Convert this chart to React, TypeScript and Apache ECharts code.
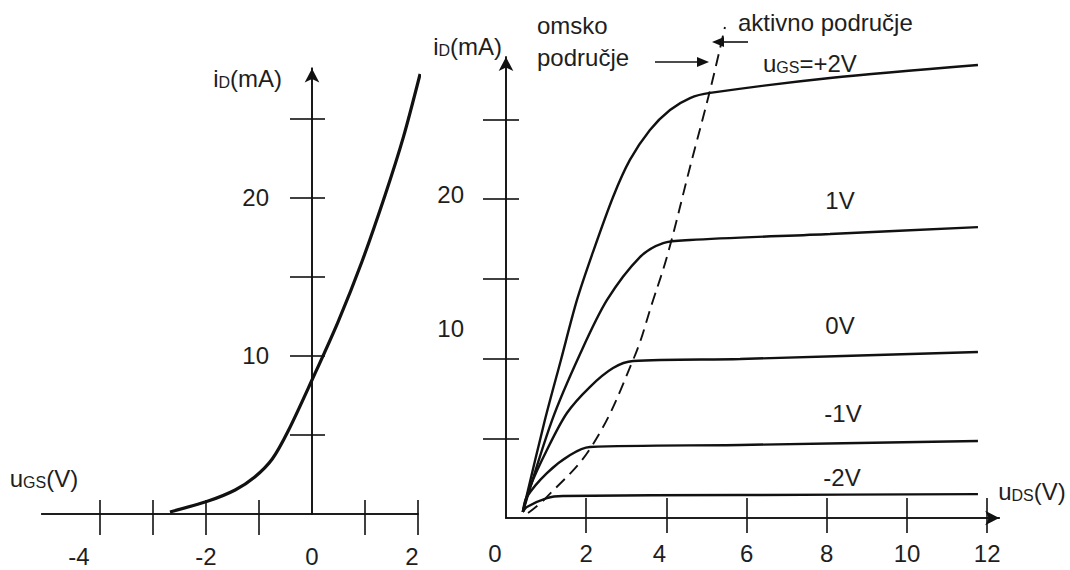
import React, { useEffect, useRef } from "react";
import * as echarts from "echarts";

const FONT = "'Liberation Sans', Arial, Helvetica, sans-serif";
const INK = "#111111";
const TEXT = "#1e1e1e";
const FS = 24;
const SUB = 16;

// ---- Left panel: transfer characteristic iD(uGS) ----
const transferUgs = [-2.68, -1.96, -1.45, -1.08, -0.75, -0.45, 0.0, 0.49, 0.94, 1.38, 1.72, 2.04];
const transferId = [0.13, 0.82, 1.52, 2.34, 3.48, 5.25, 8.48, 12.15, 15.95, 20.19, 23.8, 27.85];
const leftXTickValues = [-4, -3, -2, -1, 1, 2];
const leftXLabelValues = [-4, -2, 0, 2];
const leftYTickValues = [5, 10, 15, 20, 25];
const leftYLabelValues = [10, 20];

// ---- Right panel: output characteristics iD(uDS) ----
const udsPlus2 = [0.42, 0.97, 1.37, 1.77, 2.17, 2.67, 3.09, 3.59, 4.09, 4.59, 5.09, 8.08, 11.77];
const idPlus2 = [0.38, 6.14, 9.91, 13.67, 16.68, 20.13, 22.45, 24.33, 25.58, 26.33, 26.65, 27.59, 28.4];
const udsPlus1 = [0.42, 1.15, 1.85, 2.52, 3.34, 3.92, 4.59, 8.08, 11.77];
const idPlus1 = [0.38, 6.14, 10.3, 13.67, 16.36, 17.24, 17.43, 17.81, 18.24];
const uds0 = [0.42, 0.6, 1.02, 1.52, 2.09, 2.67, 3.17, 5.84, 11.77];
const id0 = [0.38, 1.94, 4.26, 6.58, 8.21, 9.4, 9.84, 9.97, 10.41];
const udsMinus1 = [0.42, 0.52, 1.02, 1.6, 2.09, 5.84, 11.77];
const idMinus1 = [0.38, 1.32, 2.82, 3.95, 4.45, 4.58, 4.83];
const udsMinus2 = [0.42, 0.52, 1.02, 1.42, 5.84, 11.77];
const idMinus2 = [0.38, 0.69, 1.25, 1.38, 1.44, 1.5];
const udsBoundary = [0.55, 1.02, 2.14, 3.17, 3.67, 4.04, 4.59, 5.09, 5.46];
const idBoundary = [0.31, 1.32, 4.51, 9.91, 13.67, 16.61, 22.01, 26.83, 30.78];
const rightXTickValues = [2, 4, 6, 8, 10, 12];
const rightXLabelValues = [0, 2, 4, 6, 8, 10, 12];
const rightYTickValues = [5, 10, 15, 20, 25];
const rightYLabelValues = [10, 20];
const curveLabels = ["1V", "0V", "-1V", "-2V"];

const zip = (xs: number[], ys: number[]) => xs.map((x, i) => [x, ys[i]]);

const axisLineStyle = { color: INK, width: 1.6 };
const tickStyle = { color: INK, width: 1.6 };

const subRich = {
  m: { fontSize: FS, fontFamily: FONT, color: TEXT, verticalAlign: "bottom" },
  s: { fontSize: SUB, fontFamily: FONT, color: TEXT, verticalAlign: "bottom" },
};

const labelBase = { fontSize: FS, fontFamily: FONT, color: TEXT };

function shiftRich(padRight: number, padBottom: number) {
  return { ...labelBase, padding: [0, padRight, padBottom, 0] };
}

function curveSeries(name: string, data: number[][], xi: number, yi: number, extra: any = {}) {
  return {
    name,
    type: "line",
    xAxisIndex: xi,
    yAxisIndex: yi,
    data,
    showSymbol: false,
    symbol: "none",
    smooth: 0.3,
    clip: false,
    silent: true,
    lineStyle: { color: INK, width: 2.4 },
    ...extra,
  };
}

function textEl(text: string, x: number, y: number, align = "left") {
  return {
    type: "text",
    x,
    y,
    silent: true,
    style: {
      text,
      fill: TEXT,
      font: `${FS}px ${FONT}`,
      align,
      textAlign: align,
      verticalAlign: "middle",
      textVerticalAlign: "middle",
    },
  };
}

const curveLabelPos = [
  [840, 200],
  [840, 325],
  [843, 413],
  [842, 477],
];

// left panel: the ordinate sits at uGS = 0, i.e. 312 - 41.7 px right of the grid edge
const LEFT_Y_OFFSET = -270.3;

export default function App() {
  const ref = useRef<HTMLDivElement>(null);

  useEffect(() => {
    document.body.style.margin = "0";
    const chart = echarts.init(ref.current as HTMLDivElement, null, { renderer: "svg" });

    const option: any = {
      animation: false,
      backgroundColor: "#ffffff",
      grid: [
        { left: 41.7, top: 68.4, width: 376.3, height: 445.6, containLabel: false, outerBoundsMode: "none" },
        { left: 506, top: 57.05, width: 493.2, height: 460.95, containLabel: false, outerBoundsMode: "none" },
      ],
      xAxis: [
        {
          type: "value",
          gridIndex: 0,
          position: "bottom",
          min: -5.1,
          max: 2.0,
          splitLine: { show: false },
          axisLine: { show: true, onZero: false, lineStyle: axisLineStyle },
          axisTick: { show: true, customValues: leftXTickValues, length: 21, inside: false, lineStyle: tickStyle },
          axisLabel: {
            show: true,
            customValues: leftXLabelValues,
            margin: 30,
            ...labelBase,
            formatter: (v: number) => (v === -4 ? "{a|-4}" : v === 2 ? "{b|2}" : String(v)),
            rich: { a: shiftRich(42, 0), b: shiftRich(12, 0) },
          },
          name: "{m|u}{s|GS}{m|(V)}",
          nameLocation: "start",
          nameGap: 32,
          nameTextStyle: { align: "left", verticalAlign: "bottom", padding: [0, 0, 24, 0], rich: subRich },
        },
        {
          type: "value",
          gridIndex: 0,
          position: "bottom",
          min: -5.1,
          max: 2.0,
          splitLine: { show: false },
          axisLine: { show: true, onZero: false, lineStyle: axisLineStyle },
          axisTick: { show: true, customValues: leftXTickValues, length: 14, inside: true, lineStyle: tickStyle },
          axisLabel: { show: false },
        },
        {
          type: "value",
          gridIndex: 1,
          position: "bottom",
          min: 0,
          max: 12.3,
          splitLine: { show: false },
          axisLine: {
            show: true,
            onZero: false,
            symbol: ["none", "arrow"],
            symbolSize: [11, 14],
            lineStyle: axisLineStyle,
          },
          axisTick: { show: true, customValues: rightXTickValues, length: 15, inside: false, lineStyle: tickStyle },
          axisLabel: {
            show: true,
            customValues: rightXLabelValues,
            margin: 23,
            ...labelBase,
            formatter: (v: number) => (v === 0 ? "{a|0}" : v === 4 ? "{b|4}" : String(v)),
            rich: { a: shiftRich(22, 0), b: shiftRich(14, 0) },
          },
          name: "{m|u}{s|DS}{m|(V)}",
          nameLocation: "end",
          nameGap: -1,
          nameTextStyle: { align: "left", verticalAlign: "bottom", padding: [0, 0, 15, 0], rich: subRich },
        },
        {
          type: "value",
          gridIndex: 1,
          position: "bottom",
          min: 0,
          max: 12.3,
          splitLine: { show: false },
          axisLine: { show: true, onZero: false, lineStyle: axisLineStyle },
          axisTick: { show: true, customValues: rightXTickValues, length: 20, inside: true, lineStyle: tickStyle },
          axisLabel: { show: false },
        },
      ],
      yAxis: [
        {
          type: "value",
          gridIndex: 0,
          position: "left",
          offset: LEFT_Y_OFFSET,
          min: 0,
          max: 28.2,
          splitLine: { show: false },
          axisLine: {
            show: true,
            onZero: false,
            symbol: ["none", "arrow"],
            symbolSize: [11, 14],
            lineStyle: axisLineStyle,
          },
          axisTick: { show: true, customValues: leftYTickValues, length: 22, inside: false, lineStyle: tickStyle },
          axisLabel: { show: true, customValues: leftYLabelValues, margin: 43, ...labelBase },
          name: "{m|i}{s|D}{m|(mA)}",
          nameLocation: "end",
          nameGap: -10,
          nameTextStyle: { align: "right", verticalAlign: "middle", padding: [0, 30, 0, 0], rich: subRich },
        },
        {
          type: "value",
          gridIndex: 0,
          position: "left",
          offset: LEFT_Y_OFFSET,
          min: 0,
          max: 28.2,
          splitLine: { show: false },
          axisLine: { show: true, onZero: false, lineStyle: axisLineStyle },
          axisTick: { show: true, customValues: leftYTickValues, length: 13, inside: true, lineStyle: tickStyle },
          axisLabel: { show: false },
        },
        {
          type: "value",
          gridIndex: 1,
          position: "left",
          min: 0,
          max: 28.9,
          splitLine: { show: false },
          axisLine: {
            show: true,
            onZero: false,
            symbol: ["none", "arrow"],
            symbolSize: [11, 14],
            lineStyle: axisLineStyle,
          },
          axisTick: { show: true, customValues: rightYTickValues, length: 23, inside: false, lineStyle: tickStyle },
          axisLabel: {
            show: true,
            customValues: rightYLabelValues,
            margin: 42,
            ...labelBase,
            formatter: (v: number) => (v === 10 ? "{a|10}" : "{b|20}"),
            rich: { a: shiftRich(0, 60), b: shiftRich(0, 10) },
          },
          name: "{m|i}{s|D}{m|(mA)}",
          nameLocation: "end",
          nameGap: 11,
          nameTextStyle: { align: "right", verticalAlign: "middle", padding: [0, 4, 0, 0], rich: subRich },
        },
        {
          type: "value",
          gridIndex: 1,
          position: "left",
          min: 0,
          max: 28.9,
          splitLine: { show: false },
          axisLine: { show: true, onZero: false, lineStyle: axisLineStyle },
          axisTick: { show: true, customValues: rightYTickValues, length: 13, inside: true, lineStyle: tickStyle },
          axisLabel: { show: false },
        },
      ],
      series: [
        curveSeries("iD(uGS)", zip(transferUgs, transferId), 0, 0, { lineStyle: { color: INK, width: 3.2 } }),
        curveSeries("uGS=+2V", zip(udsPlus2, idPlus2), 2, 2),
        curveSeries(curveLabels[0], zip(udsPlus1, idPlus1), 2, 2),
        curveSeries(curveLabels[1], zip(uds0, id0), 2, 2),
        curveSeries(curveLabels[2], zip(udsMinus1, idMinus1), 2, 2),
        curveSeries(curveLabels[3], zip(udsMinus2, idMinus2), 2, 2),
        curveSeries("granica", zip(udsBoundary, idBoundary), 2, 2, {
          smooth: 0.4,
          lineStyle: { color: INK, width: 1.9, type: [12, 7] },
        }),
      ],
      graphic: [
        textEl("omsko", 537, 25),
        textEl("područje", 537, 57),
        textEl("aktivno područje", 738, 22),
        {
          type: "text",
          x: 763,
          y: 63,
          silent: true,
          style: {
            text: "{m|u}{s|GS}{m|=+2V}",
            rich: subRich,
            fill: TEXT,
            font: `${FS}px ${FONT}`,
            align: "left",
            textAlign: "left",
            verticalAlign: "middle",
            textVerticalAlign: "middle",
          },
        },
        ...curveLabels.map((t, i) => textEl(t, curveLabelPos[i][0], curveLabelPos[i][1], "center")),
        { type: "line", silent: true, shape: { x1: 655, y1: 62, x2: 699, y2: 62 }, style: { stroke: INK, lineWidth: 1.6 } },
        { type: "polygon", silent: true, shape: { points: [[697, 57], [709, 62], [697, 67]] }, style: { fill: INK } },
        { type: "line", silent: true, shape: { x1: 748, y1: 42, x2: 722, y2: 42 }, style: { stroke: INK, lineWidth: 1.6 } },
        { type: "polygon", silent: true, shape: { points: [[724, 37], [712, 42], [724, 47]] }, style: { fill: INK } },
      ],
    };

    chart.setOption(option);
    return () => chart.dispose();
  }, []);

  return <div ref={ref} style={{ width: 1070, height: 570 }} />;
}
